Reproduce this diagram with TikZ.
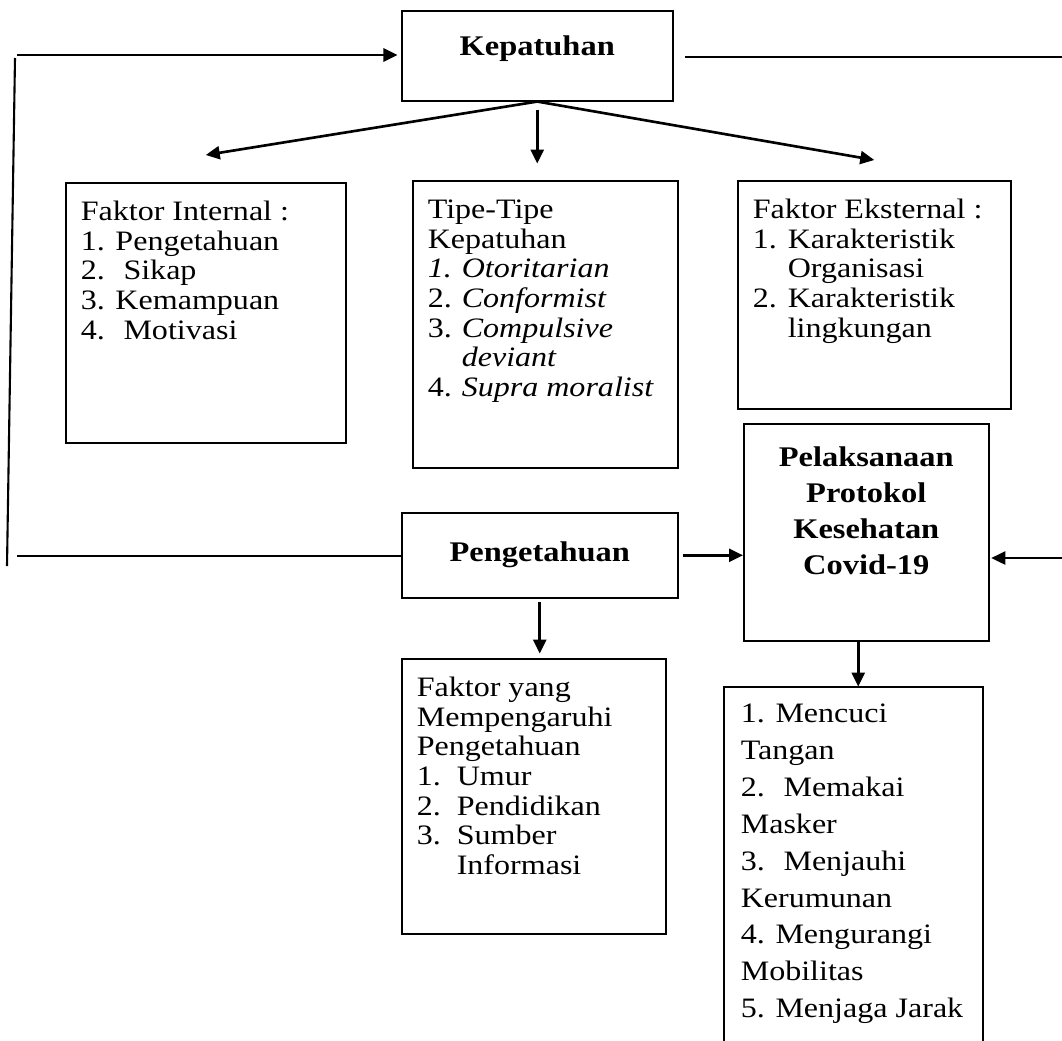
\documentclass[tikz,border=0pt]{standalone}
\usepackage{fontspec}
\setmainfont{Liberation Serif}[FakeStretch=1.14]
\usetikzlibrary{arrows.meta}
\def\isi#1#2#3{\parbox[t][#1][t]{#2}{\strut#3}}
\def\nr#1#2{\makebox[#1][l]{#2}}

\tikzset{
  kotak/.style={draw, line width=0.9pt, anchor=north west, inner xsep=0.3cm, inner ysep=0.35cm,
    font=\fontsize{16}{16.8}\selectfont},
  judul/.style={kotak, font=\fontsize{16.2}{20.5}\selectfont\bfseries},
  panah/.style={line width=1.5pt, -{Triangle[length=0.28cm,width=0.26cm]}},
  garis/.style={line width=1.5pt},
}

\begin{document}
\begin{tikzpicture}[x=0.02cm,y=-0.02cm]
		%%%%% START %%%%%
		\useasboundingbox (0,0) rectangle (1062,1041);
		\clip (0,0) rectangle (1062,1041);
		
		\node[judul, inner ysep=0.4cm] (kepatuhan) at (401,10) {\isi{1.0cm}{4.82cm}{\centering Kepatuhan}};
		
		\node[kotak] (internal) at (65,182) {\isi{4.5cm}{5.0cm}{Faktor Internal :\\1. Pengetahuan\\2.~ Sikap\\3. Kemampuan\\4.~ Motivasi}};
		\node[kotak] (tipe) at (412,180) {\isi{5.04cm}{4.7cm}{Tipe-Tipe\\Kepatuhan\\\nr{0.68cm}{\textit{1.}}\textit{Otoritarian}\\\nr{0.68cm}{2.}\textit{Conformist}\\\nr{0.68cm}{3.}\textit{Compulsive}\\\nr{0.68cm}{}\textit{deviant}\\\nr{0.68cm}{4.}\textit{Supra moralist}}};
		\node[kotak] (eksternal) at (737,180) {\isi{3.86cm}{4.86cm}{Faktor Eksternal :\\\nr{0.7cm}{1.}Karakteristik\\\nr{0.7cm}{}Organisasi\\\nr{0.7cm}{2.}Karakteristik\\\nr{0.7cm}{}lingkungan}};
		
		\node[judul] (pelaksanaan) at (743,423) {\isi{3.64cm}{4.3cm}{\centering Pelaksanaan\\Protokol\\Kesehatan\\Covid-19}};
		\node[judul, inner ysep=0.46cm] (pengetahuan) at (401,512) {\isi{0.78cm}{4.92cm}{\centering Pengetahuan}};
		
		\node[kotak] (faktor) at (401,658) {\isi{4.8cm}{4.68cm}{Faktor yang\\Mempengaruhi\\Pengetahuan\\\nr{0.8cm}{1.}Umur\\\nr{0.8cm}{2.}Pendidikan\\\nr{0.8cm}{3.}Sumber\\\nr{0.8cm}{}Informasi}};
		\node[kotak, font=\fontsize{16}{21}\selectfont, inner xsep=0.34cm, inner ysep=0.2cm] (protokol) at (723,686) {\isi{7.0cm}{4.5cm}{1. Mencuci\\Tangan\\2.~ Memakai\\Masker\\3.~ Menjauhi\\Kerumunan\\4. Mengurangi\\Mobilitas\\5. Menjaga Jarak}};
		
		% loose ends of the outer loop
		\coordinate (kiriatas) at (17,55);
		\coordinate (kiriA) at (15,58);
		\coordinate (kiriB) at (7,566);
		\coordinate (kiribawah) at (17,556);
		\coordinate (kanan0) at (685,57);
		\coordinate (kananatas) at (1062,57);
		\coordinate (kananbawah) at (1062,558);
		
		\draw[panah, shorten >=2pt] (kiriatas) -- (kiriatas -| kepatuhan.west);
		\draw[garis, line width=1.2pt] (kiriA) -- (kiriB);
		\draw[garis, line width=1.2pt] (kiribawah) -- (kiribawah -| pengetahuan.west);
		\draw[garis, line width=1.2pt] (kanan0) -- (kananatas);
		\draw[panah, shorten >=1pt] (kananbawah) -- (pelaksanaan.east |- kananbawah);
		
		\draw[panah] (kepatuhan.south) -- ([yshift=0.54cm]internal.north);
		\draw[panah] (kepatuhan.south) ++(0,8) -- ++(0,54);
		\draw[panah] (kepatuhan.south) -- ([yshift=0.4cm]eksternal.north);
		
		\draw[panah] ([xshift=0.08cm]pengetahuan.east) -- (pengetahuan.east -| pelaksanaan.west);
		\draw[panah] (pengetahuan.south) ++(0,3) -- ++(0,52);
		\draw[panah] (pelaksanaan.south) ++(-8,0) -- ++(0,45);
		
		%%%%% END %%%%%
\end{tikzpicture}
\end{document}
